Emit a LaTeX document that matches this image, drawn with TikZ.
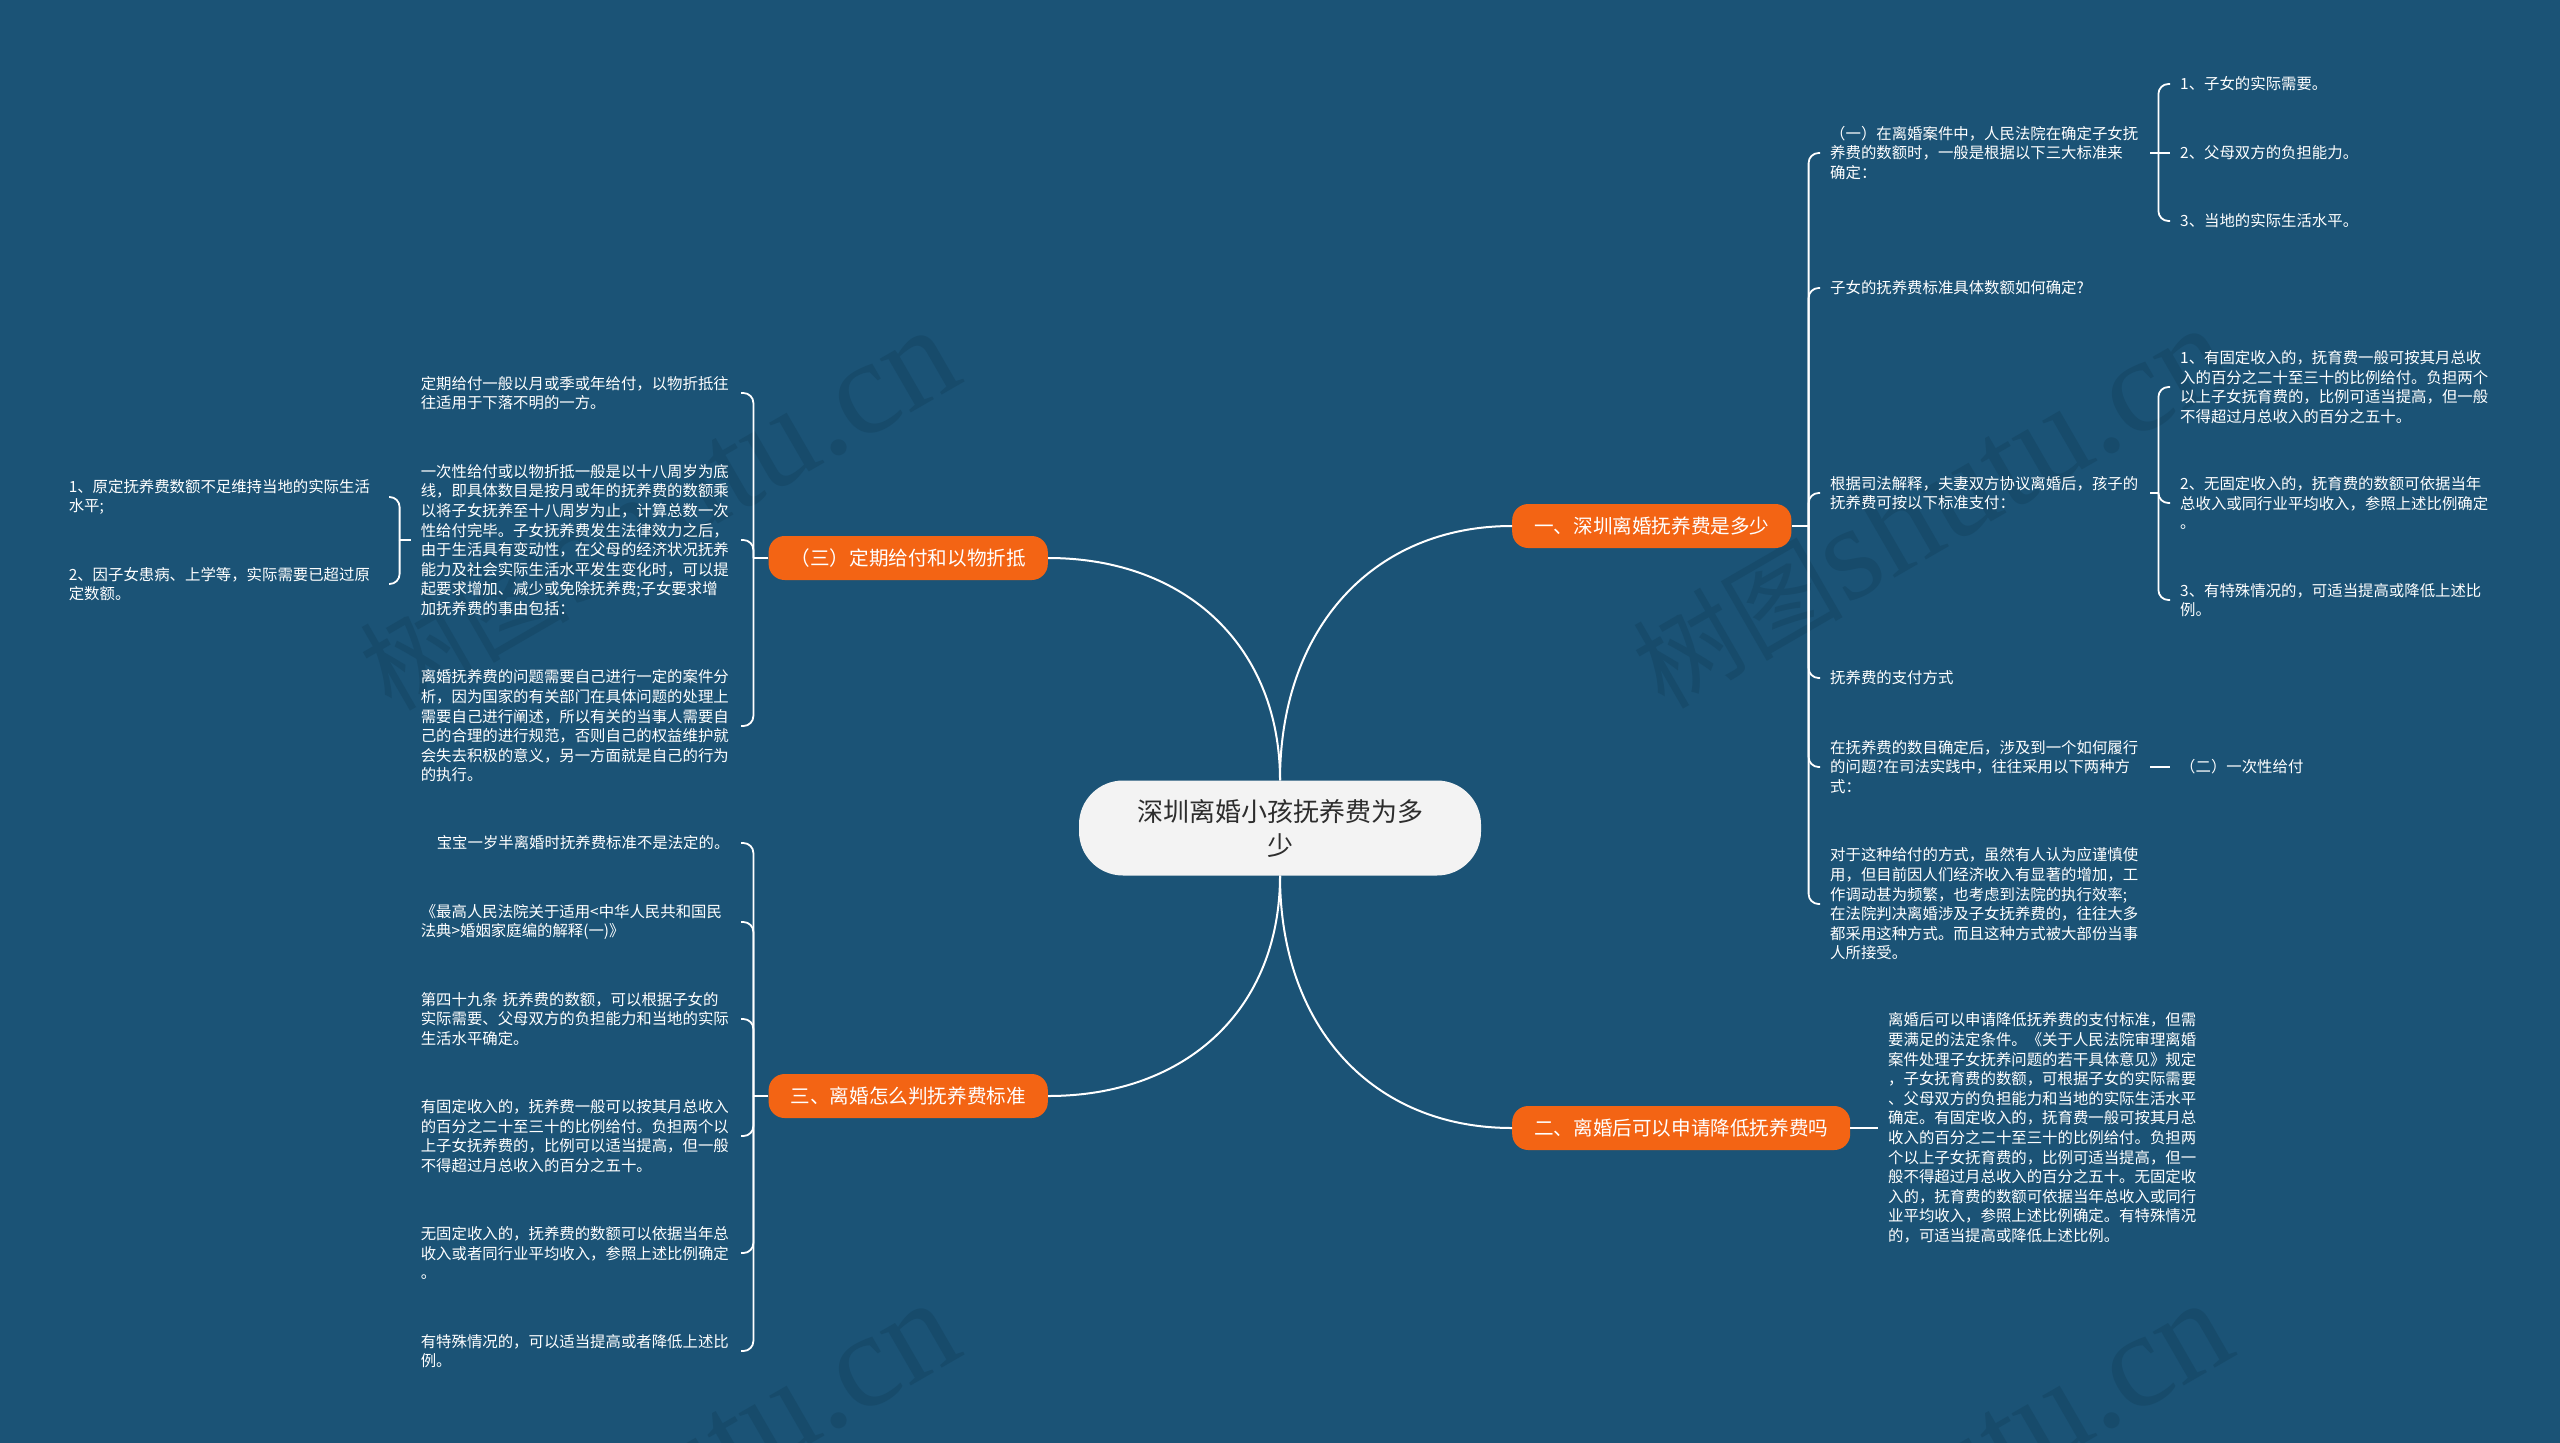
\documentclass[tikz,border=0pt]{standalone}
\usepackage{fontspec}
\setmainfont{Noto Sans CJK SC}
\newfontfamily\wmlatin{Liberation Serif}
\usetikzlibrary{calc}
\definecolor{bg}{RGB}{27,83,118}
\definecolor{wm}{RGB}{23,75,107}
\definecolor{org}{RGB}{243,100,20}
\definecolor{rootfill}{RGB}{243,243,243}
\definecolor{roottext}{RGB}{45,45,45}
\begin{document}
\begin{tikzpicture}[x=1pt,y=-1pt,
  orangebox/.style={fill=org, text=white, rounded corners=16pt, minimum height=44pt,
    inner xsep=22pt, inner ysep=0pt, font=\fontsize{19.6}{24}\selectfont},
  rootbox/.style={fill=rootfill, text=roottext, rounded corners=44pt, minimum width=402pt,
    minimum height=95pt, align=center, font=\fontsize{26}{34}\selectfont},
  leaf/.style={text=white, align=left, text width=310pt, inner xsep=10pt, inner ysep=2pt,
    font=\fontsize{15.4}{19.6}\selectfont},
  link/.style={draw=white, line width=2pt},
  brk/.style={draw=white, line width=1.8pt, rounded corners=10pt},
  wmark/.style={text=wm, inner sep=0pt, rotate=30, font=\fontsize{105}{110}\selectfont}]
\useasboundingbox (0,0) rectangle (2560,1443);
\fill[bg] (0,0) rectangle (2560,1443);

% watermarks
\begin{scope}
\clip (0,0) rectangle (2560,1443);
\node[wmark] (wm1) at (658,510) {树图{\wmlatin\fontsize{135}{140}\selectfont shutu.cn}};
\node[wmark] (wm2) at (1931,508) {树图{\wmlatin\fontsize{135}{140}\selectfont shutu.cn}};
\node[wmark] (wm3) at (658,1483) {树图{\wmlatin\fontsize{135}{140}\selectfont shutu.cn}};
\node[wmark] (wm4) at (1931,1483) {树图{\wmlatin\fontsize{135}{140}\selectfont shutu.cn}};
\end{scope}

% root and main branches
\node[rootbox] (root) at (1280,828) {深圳离婚小孩抚养费为多\\少};
\node[orangebox, anchor=west] (b1) at (1512,526) {一、深圳离婚抚养费是多少};
\node[orangebox, anchor=west] (b2) at (1512,1128) {二、离婚后可以申请降低抚养费吗};
\node[orangebox, anchor=east] (b3) at (1048,558) {（三）定期给付和以物折抵};
\node[orangebox, anchor=east] (b4) at (1048,1096) {三、离婚怎么判抚养费标准};

\draw[link] (root.north) .. controls +(0,-152) and +(-139,0) .. (b1.west);
\draw[link] (root.north) .. controls +(0,-133) and +(139,0) .. (b3.east);
\draw[link] (root.south) .. controls +(0,152) and +(-139,0) .. (b2.west);
\draw[link] (root.south) .. controls +(0,133) and +(139,0) .. (b4.east);

% branch 1 children
\node[leaf, anchor=west] (c11) at (1820,153) {（一）在离婚案件中，人民法院在确定子女抚\\养费的数额时，一般是根据以下三大标准来\\确定：};
\node[leaf, anchor=west] (c12) at (1820,288) {子女的抚养费标准具体数额如何确定?};
\node[leaf, anchor=west] (c13) at (1820,493) {根据司法解释，夫妻双方协议离婚后，孩子的\\抚养费可按以下标准支付：};
\node[leaf, anchor=west] (c14) at (1820,678) {抚养费的支付方式};
\node[leaf, anchor=west] (c15) at (1820,767) {在抚养费的数目确定后，涉及到一个如何履行\\的问题?在司法实践中，往往采用以下两种方\\式：};
\node[leaf, anchor=west] (c16) at (1820,904) {对于这种给付的方式，虽然有人认为应谨慎使\\用，但目前因人们经济收入有显著的增加，工\\作调动甚为频繁，也考虑到法院的执行效率;\\在法院判决离婚涉及子女抚养费的，往往大多\\都采用这种方式。而且这种方式被大部份当事\\人所接受。};

\draw[link] (b1.east) -- ++(17,0) coordinate (j1);
\foreach \c in {c11,c12,c13,c14,c15,c16} \draw[brk] (j1) |- (\c.west);

\node[leaf, anchor=west] (k111) at (2170,84) {1、子女的实际需要。};
\node[leaf, anchor=west] (k112) at (2170,153) {2、父母双方的负担能力。};
\node[leaf, anchor=west] (k113) at (2170,221) {3、当地的实际生活水平。};
\draw[link] (c11.east) -- ++(8,0) coordinate (j11);
\draw[brk] (j11) |- (k111.west);
\draw[brk] (j11) -- (k112.west);
\draw[brk] (j11) |- (k113.west);

\node[leaf, anchor=west] (k131) at (2170,387) {1、有固定收入的，抚育费一般可按其月总收\\入的百分之二十至三十的比例给付。负担两个\\以上子女抚育费的，比例可适当提高，但一般\\不得超过月总收入的百分之五十。};
\node[leaf, anchor=west] (k132) at (2170,503) {2、无固定收入的，抚育费的数额可依据当年\\总收入或同行业平均收入，参照上述比例确定\\。};
\node[leaf, anchor=west] (k133) at (2170,600) {3、有特殊情况的，可适当提高或降低上述比\\例。};
\draw[link] (c13.east) -- ++(8,0) coordinate (j13);
\foreach \c in {k131,k132,k133} \draw[brk] (j13) |- (\c.west);

\node[leaf, anchor=west] (k151) at (2170,767) {（二）一次性给付};
\draw[link] (c15.east) -- (k151.west);

% branch 2 child
\node[leaf, anchor=west] (k21) at (1878,1128) {离婚后可以申请降低抚养费的支付标准，但需\\要满足的法定条件。《关于人民法院审理离婚\\案件处理子女抚养问题的若干具体意见》规定\\，子女抚育费的数额，可根据子女的实际需要\\、父母双方的负担能力和当地的实际生活水平\\确定。有固定收入的，抚育费一般可按其月总\\收入的百分之二十至三十的比例给付。负担两\\个以上子女抚育费的，比例可适当提高，但一\\般不得超过月总收入的百分之五十。无固定收\\入的，抚育费的数额可依据当年总收入或同行\\业平均收入，参照上述比例确定。有特殊情况\\的，可适当提高或降低上述比例。};
\draw[link] (b2.east) -- (k21.west);

% branch (三) children
\node[leaf, anchor=east] (l1) at (741,393) {定期给付一般以月或季或年给付，以物折抵往\\往适用于下落不明的一方。};
\node[leaf, anchor=east] (l2) at (741,540) {一次性给付或以物折抵一般是以十八周岁为底\\线，即具体数目是按月或年的抚养费的数额乘\\以将子女抚养至十八周岁为止，计算总数一次\\性给付完毕。子女抚养费发生法律效力之后，\\由于生活具有变动性，在父母的经济状况抚养\\能力及社会实际生活水平发生变化时，可以提\\起要求增加、减少或免除抚养费;子女要求增\\加抚养费的事由包括：};
\node[leaf, anchor=east] (l3) at (741,726) {离婚抚养费的问题需要自己进行一定的案件分\\析，因为国家的有关部门在具体问题的处理上\\需要自己进行阐述，所以有关的当事人需要自\\己的合理的进行规范，否则自己的权益维护就\\会失去积极的意义，另一方面就是自己的行为\\的执行。};
\draw[link] (b3.west) -- ++(-15,0) coordinate (j3);
\foreach \c in {l1,l2,l3} \draw[brk] (j3) |- (\c.east);

\node[leaf, anchor=east] (l21) at (389,497) {1、原定抚养费数额不足维持当地的实际生活\\水平;};
\node[leaf, anchor=east] (l22) at (389,584) {2、因子女患病、上学等，实际需要已超过原\\定数额。};
\draw[link] (l2.west) -- ++(-11,0) coordinate (j32);
\foreach \c in {l21,l22} \draw[brk] (j32) |- (\c.east);

% branch 三 children
\node[leaf, anchor=east] (m1) at (741,843) {\hspace*{16pt}宝宝一岁半离婚时抚养费标准不是法定的。};
\node[leaf, anchor=east] (m2) at (741,922) {《最高人民法院关于适用<中华人民共和国民\\法典>婚姻家庭编的解释(一)》};
\node[leaf, anchor=east] (m3) at (741,1019) {第四十九条 抚养费的数额，可以根据子女的\\实际需要、父母双方的负担能力和当地的实际\\生活水平确定。};
\node[leaf, anchor=east] (m4) at (741,1136) {有固定收入的，抚养费一般可以按其月总收入\\的百分之二十至三十的比例给付。负担两个以\\上子女抚养费的，比例可以适当提高，但一般\\不得超过月总收入的百分之五十。};
\node[leaf, anchor=east] (m5) at (741,1253) {无固定收入的，抚养费的数额可以依据当年总\\收入或者同行业平均收入，参照上述比例确定\\。};
\node[leaf, anchor=east] (m6) at (741,1351) {有特殊情况的，可以适当提高或者降低上述比\\例。};
\draw[link] (b4.west) -- ++(-15,0) coordinate (j4);
\foreach \c in {m1,m2,m3,m4,m5,m6} \draw[brk] (j4) |- (\c.east);
\end{tikzpicture}
\end{document}
